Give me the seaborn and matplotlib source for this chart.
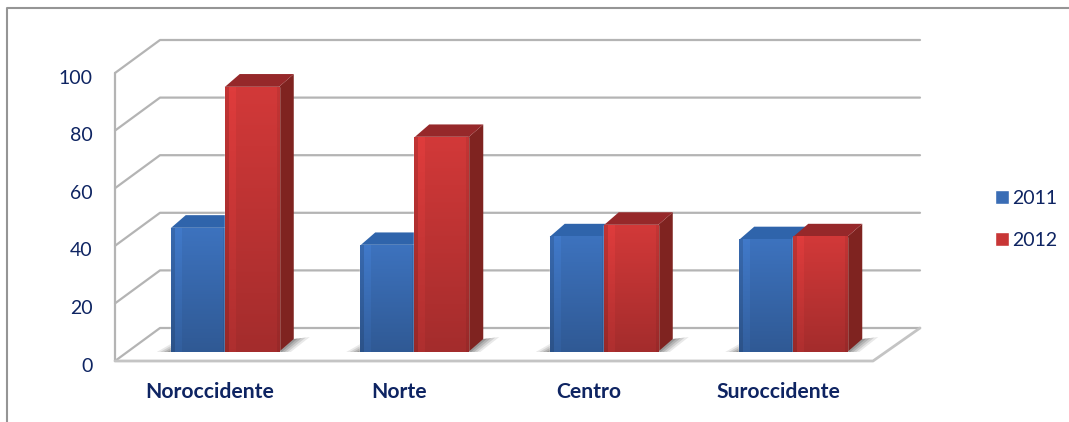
import numpy as np
import pandas as pd
import matplotlib
matplotlib.use("Agg")
import matplotlib.pyplot as plt
from matplotlib.lines import Line2D
from matplotlib.patches import Polygon
from matplotlib.transforms import ScaledTranslation
import seaborn as sns

categories = ["Noroccidente", "Norte", "Centro", "Suroccidente"]
years = ["2011", "2012"]
values_2011 = [43, 37, 40, 39]
values_2012 = [92, 74.5, 44, 40]
y_ticks = [0, 20, 40, 60, 80, 100]

W, H = 1069, 422
NAVY = "#0e2462"
GRID = "#b4b4b4"
palette = {"2011": "#3a6db5", "2012": "#c83636"}
side_colors = {"2011": "#234f8e", "2012": "#7f2320"}
top_colors = {"2011": "#2f64ab", "2012": "#96282a"}

sns.set_theme(style="white")
plt.rcParams["font.family"] = ["Lato", "DejaVu Sans"]

df = pd.DataFrame({
    "region": categories * 2,
    "year": ["2011"] * 4 + ["2012"] * 4,
    "value": values_2011 + values_2012,
})

fig = plt.figure(figsize=(W / 100, H / 100), dpi=100, facecolor="white")


def box(x0, x1, ytop, ybottom):
    return [x0 / W, 1 - ybottom / H, (x1 - x0) / W, (ybottom - ytop) / H]


# outer frame of the chart: top and left edges only reach the image
fig.add_artist(Line2D([7 / W, 7 / W, 1.0], [0.0, 1 - 8 / H, 1 - 8 / H], transform=fig.transFigure,
                      color="#959595", lw=1.5))

# front plane: carries axis labels, walls and floor
ax = fig.add_axes(box(115, 873, 73, 361))
ax.set_xlim(-0.5, 3.5)
ax.set_ylim(0, 100)
ax.patch.set_alpha(0)
sns.despine(ax=ax, left=True, bottom=True, top=True, right=True)
ax.set_xticks(range(len(categories)))
ax.set_xticklabels(categories, fontweight="bold", fontsize=15.2, color=NAVY)
ax.set_yticks(y_ticks)
ax.set_yticklabels([str(t) for t in y_ticks], fontsize=14, color=NAVY)
ax.tick_params(axis="x", length=0, pad=15)
ax.tick_params(axis="y", length=0, pad=16)
down = ScaledTranslation(0, -3.5 / 100, fig.dpi_scale_trans)
for lab in ax.get_yticklabels():
    lab.set_transform(lab.get_transform() + down)

px_x = 4 / 758
px_y = 100 / 288
dx_back = 45 * px_x
dy_back = 33 * px_y
x0, x1 = -0.5, 3.5
line = dict(color=GRID, lw=1.6, clip_on=False, solid_capstyle="round", zorder=1)
for t in y_ticks:
    ax.plot([x0, x0 + dx_back, x1 + dx_back + 2 * px_x], [t, t + dy_back, t + dy_back], **line)
ax.plot([x0, x0], [0, 100], **line)
ax.plot([x0, x1, x1 + dx_back + 2 * px_x], [0, 0, dy_back], color="#c4c4c4", lw=2.0,
        clip_on=False, zorder=1)

# bars: the same scale, set back on the floor
bar_ax = fig.add_axes(box(130, 888, 64, 352), zorder=3)
sns.barplot(data=df, x="region", y="value", hue="year", hue_order=years, order=categories,
            palette=palette, saturation=1, width=0.57, gap=0, ax=bar_ax, legend=True)
bar_ax.set_xlim(-0.5, 3.5)
bar_ax.set_ylim(0, 100)
bar_ax.axis("off")
bar_ax.patch.set_alpha(0)

depth_x = 15 * px_x
depth_y = 13 * px_y
for year, cont in zip(years, bar_ax.containers):
    base = np.array(matplotlib.colors.to_rgb(palette[year]))
    z = 3 if year == "2011" else 5
    for bar in cont:
        x, w, h = bar.get_x(), bar.get_width(), bar.get_height()
        # soft floor shadow, drawn once for each pair of bars
        if year == "2012":
            for grow, alpha in zip([1.0, 0.75, 0.5, 0.25], [0.12, 0.16, 0.20, 0.26]):
                bar_ax.add_patch(Polygon(
                    [(x - w - 14 * grow * px_x, 0), (x + w + 12 * grow * px_x, 0),
                     (x + w + depth_x + 16 * grow * px_x, depth_y + 2 * grow * px_y),
                     (x + w + depth_x, depth_y),
                     (x - w, 8 * grow * px_y)],
                    closed=True, fc="#4a4a4a", ec="none", alpha=alpha, zorder=1, clip_on=False))
        # right side and top faces
        bar_ax.add_patch(Polygon([(x + w, 0), (x + w + depth_x, depth_y), (x + w + depth_x, h + depth_y),
                                  (x + w, h)], closed=True, fc=side_colors[year], ec="none", zorder=z))
        bar_ax.add_patch(Polygon([(x, h), (x + depth_x, h + depth_y), (x + w + depth_x, h + depth_y),
                                  (x + w, h)], closed=True, fc=top_colors[year], ec="none", zorder=z))
        # shaded front face
        ny, nx = 64, 55
        vert = np.linspace(1.05, 0.82, ny)[:, None]
        horiz = np.ones(nx)
        horiz[:4] = 0.92
        horiz[4:11] = 1.06
        horiz[-3:] = 0.93
        rgb = np.clip(vert[:, :, None] * horiz[None, :, None] * base[None, None, :], 0, 1)
        bar.set_zorder(z + 1)
        bar_ax.imshow(rgb, extent=(x, x + w, 0, h), aspect="auto", origin="upper",
                      zorder=z + 1, interpolation="bilinear")
bar_ax.set_xlim(-0.5, 3.5)
bar_ax.set_ylim(0, 100)

# legend
handles, labels = bar_ax.get_legend_handles_labels()
bar_ax.get_legend().remove()
leg = fig.legend(handles, labels, loc="upper left", bbox_to_anchor=(995 / W, 1 - 190 / H),
                 frameon=False, fontsize=14, handlelength=0.72, handleheight=0.72, handletextpad=0.17,
                 labelspacing=1.27, borderpad=0, borderaxespad=0)
for t in leg.get_texts():
    t.set_color(NAVY)

fig.savefig("out.png", dpi=100, facecolor="white")
